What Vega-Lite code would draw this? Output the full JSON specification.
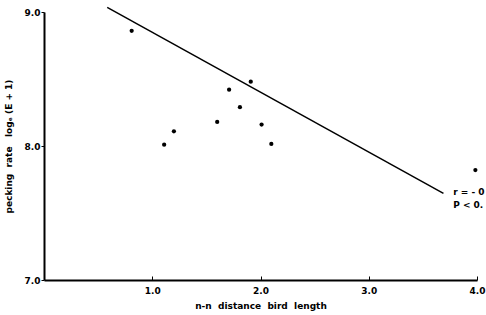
{
  "$schema": "https://vega.github.io/schema/vega-lite/v6.json",
  "width": 433,
  "height": 268,
  "autosize": "none",
  "padding": {"left": 44, "top": 12, "right": 9, "bottom": 35},
  "background": "white",
  "config": {
    "view": {"stroke": null},
    "font": "DejaVu Sans",
    "axis": {"grid": false, "domainColor": "black", "domainWidth": 2, "tickColor": "black", "labelColor": "black", "titleColor": "black", "labelFont": "DejaVu Sans", "titleFont": "DejaVu Sans", "labelFontWeight": "bold", "titleFontWeight": "bold", "labelFontSize": 9, "titleFontSize": 9}
  },
  "layer": [
    {
      "data": {"values": [
        {"x": 0.81, "y": 8.86},
        {"x": 1.91, "y": 8.48},
        {"x": 1.71, "y": 8.42},
        {"x": 1.81, "y": 8.29},
        {"x": 1.60, "y": 8.18},
        {"x": 2.01, "y": 8.16},
        {"x": 1.20, "y": 8.11},
        {"x": 1.11, "y": 8.01},
        {"x": 2.10, "y": 8.015},
        {"x": 3.985, "y": 7.82}
      ]},
      "mark": {"type": "point", "filled": true, "color": "black", "size": 18, "opacity": 1},
      "encoding": {
        "x": {"field": "x", "type": "quantitative", "scale": {"domain": [0, 4], "nice": false, "zero": false},
          "axis": {"values": [1, 2, 3, 4], "format": ".1f", "tickSize": -4, "labelPadding": 10, "title": "n-n \u00a0distance \u00a0bird \u00a0length", "titlePadding": 6, "labelFlush": false}},
        "y": {"field": "y", "type": "quantitative", "scale": {"domain": [7, 9], "nice": false, "zero": false},
          "axis": {"values": [7, 8, 9], "format": ".1f", "tickSize": 3, "labelPadding": 1, "title": "pecking \u00a0rate \u00a0 logₑ (E + 1)", "titlePadding": 11}}
      }
    },
    {
      "data": {"values": [
        {"x": 0.584, "y": 9.035},
        {"x": 3.69, "y": 7.647}
      ]},
      "mark": {"type": "line", "color": "black", "strokeWidth": 1.5, "clip": false},
      "encoding": {
        "x": {"field": "x", "type": "quantitative"},
        "y": {"field": "y", "type": "quantitative"}
      }
    },
    {
      "data": {"values": [
        {"x": 3.78, "y": 7.66, "t": "r = - 0"},
        {"x": 3.78, "y": 7.56, "t": "P < 0."}
      ]},
      "mark": {"type": "text", "align": "left", "baseline": "middle", "fontWeight": "bold", "fontSize": 9, "font": "DejaVu Sans", "color": "black", "clip": false},
      "encoding": {
        "x": {"field": "x", "type": "quantitative"},
        "y": {"field": "y", "type": "quantitative"},
        "text": {"field": "t"}
      }
    }
  ]
}
